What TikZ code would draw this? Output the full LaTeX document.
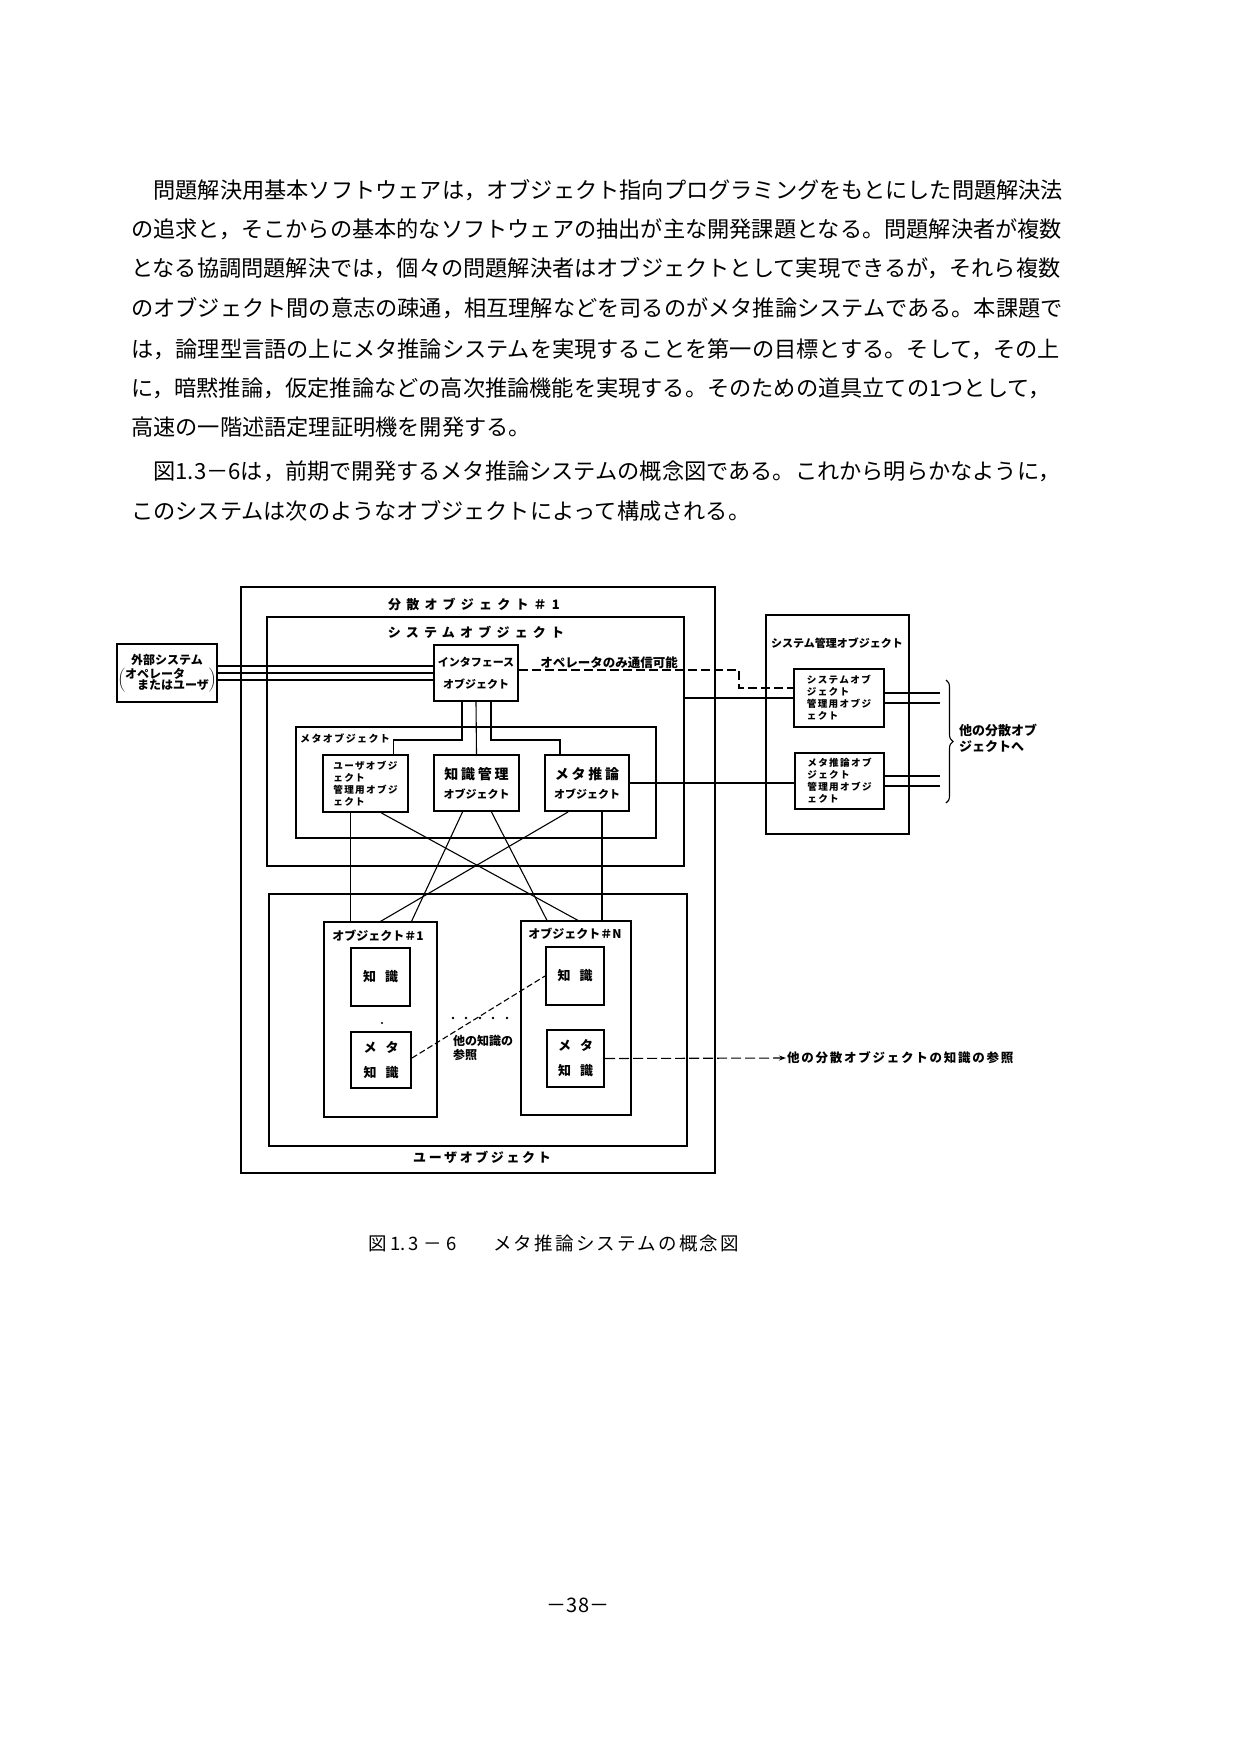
\documentclass[tikz,border=0pt]{standalone}
\usepackage{fontspec}
\setmainfont{Noto Sans CJK JP}
\newfontfamily\jpwide[LetterSpace=40]{Noto Sans CJK JP}
\newfontfamily\jpmid[LetterSpace=20]{Noto Sans CJK JP}
\newfontfamily\jpcap[LetterSpace=12]{Noto Sans CJK JP}
\newfontfamily\jpsm[LetterSpace=14]{Noto Sans CJK JP}
\usetikzlibrary{arrows.meta,positioning,decorations.pathreplacing}

\begin{document}
\begin{tikzpicture}[x=1pt,y=-1pt,
  frame/.style={draw,line width=1.2pt,inner sep=0pt},
  box/.style={draw,line width=2pt,inner sep=0pt,align=center,font=\bfseries\fontsize{11}{13}\selectfont},
  sbox/.style={box,align=left,font=\jpsm\bfseries\fontsize{9.6}{12}\selectfont},
  ttl/.style={inner sep=0pt,font=\jpwide\bfseries\fontsize{13}{15}\selectfont},
  lab/.style={inner sep=1pt,align=left,font=\bfseries\fontsize{12}{14}\selectfont},
  para/.style={anchor=west,inner sep=0pt,font=\fontsize{22.2}{26}\selectfont},
  line/.style={line width=1.1pt}]
\fill[white] (0,0) rectangle (1248,1754);
\useasboundingbox (0,0) rectangle (1248,1754);

% body text
\node[para] (l1) at (131,190) {\hspace*{1em}問題解決用基本ソフトウェアは，オブジェクト指向プログラミングをもとにした問題解決法};
\node[para] (l2) at (131,229) {の追求と，そこからの基本的なソフトウェアの抽出が主な開発課題となる。問題解決者が複数};
\node[para] (l3) at (131,268) {となる協調問題解決では，個々の問題解決者はオブジェクトとして実現できるが，それら複数};
\node[para] (l4) at (131,308) {のオブジェクト間の意志の疎通，相互理解などを司るのがメタ推論システムである。本課題で};
\node[para] (l5) at (131,349) {は，論理型言語の上にメタ推論システムを実現することを第一の目標とする。そして，その上};
\node[para] (l6) at (131,388) {に，暗黙推論，仮定推論などの高次推論機能を実現する。そのための道具立ての1つとして，};
\node[para] (l7) at (131,427) {高速の一階述語定理証明機を開発する。};
\node[para] (l8) at (131,471) {\hspace*{1em}図1.3－6は，前期で開発するメタ推論システムの概念図である。これから明らかなように，};
\node[para] (l9) at (131,511) {このシステムは次のようなオブジェクトによって構成される。};

% distributed object #1
\node[frame,minimum width=474,minimum height=586] (dist) at (478,880) {};
\node[ttl] (distT) at (474,604) {分散オブジェクト＃1};
\node[frame,minimum width=417,minimum height=249] (sys) at (475.5,741.5) {};
\node[ttl] (sysT) at (476,632) {システムオブジェクト};
\node[box,minimum width=84,minimum height=56] (iface) at (476,673) {インタフェース\\[9pt]オブジェクト};
\node[box,minimum width=100,minimum height=58,font=\bfseries\fontsize{12}{13}\selectfont] (ext) at (167,673)
  {外部システム\\[1pt]$\left(\vcenter{\baselineskip=11pt\hbox{オペレータ}\hbox{\hspace{1em}またはユーザ}}\right)$};

% meta objects
\node[frame,minimum width=360,minimum height=111] (meta) at (476,782.5) {};
\node[inner sep=0pt,anchor=west,font=\jpsm\bfseries\fontsize{10}{12}\selectfont] (metaT) at (300,739) {メタオブジェクト};
\node[sbox,minimum width=85,minimum height=57] (umg) at (365.5,783.5) {ユーザオブジ\\ェクト\\管理用オブジ\\ェクト};
\node[box,minimum width=85,minimum height=56] (kmg) at (476.5,783) {{\jpmid\bfseries\fontsize{14}{16}\selectfont 知識管理}\\[6pt]オブジェクト};
\node[box,minimum width=84,minimum height=56] (minf) at (587,783) {{\jpmid\bfseries\fontsize{14}{16}\selectfont メタ推論}\\[6pt]オブジェクト};

% user objects
\node[frame,minimum width=418,minimum height=252] (uobj) at (478,1020) {};
\node[inner sep=0pt,font=\jpmid\bfseries\fontsize{13}{15}\selectfont] (uobjT) at (482,1157) {ユーザオブジェクト};
\node[frame,minimum width=113,minimum height=195] (obj1) at (380.5,1019.5) {};
\node[inner sep=0pt,font=\bfseries\fontsize{12}{14}\selectfont] (obj1T) at (378,936) {オブジェクト＃1};
\node[box,minimum width=59,minimum height=58,font=\bfseries\fontsize{13}{15}\selectfont] (k1) at (380.5,977) {知\hspace{9pt}識};
\node[box,minimum width=60,minimum height=56,font=\bfseries\fontsize{13}{15}\selectfont] (mk1) at (381,1060) {メ\hspace{9pt}タ\\[10pt]知\hspace{9pt}識};
\node[frame,minimum width=110,minimum height=194] (objN) at (576,1018) {};
\node[inner sep=0pt,font=\bfseries\fontsize{12}{14}\selectfont] (objNT) at (575,934) {オブジェクト＃N};
\node[box,minimum width=58,minimum height=58,font=\bfseries\fontsize{13}{15}\selectfont] (kn) at (575,976) {知\hspace{9pt}識};
\node[box,minimum width=57,minimum height=57,font=\bfseries\fontsize{13}{15}\selectfont] (mkn) at (575.5,1058.5) {メ\hspace{9pt}タ\\[10pt]知\hspace{9pt}識};

% system management object
\node[frame,minimum width=143,minimum height=219] (smg) at (837.5,724.5) {};
\node[inner sep=0pt,font=\bfseries\fontsize{11}{13}\selectfont] (smgT) at (837,643) {システム管理オブジェクト};
\node[sbox,minimum width=90,minimum height=58] (sm1) at (839,698) {システムオブ\\ジェクト\\管理用オブジ\\ェクト};
\node[sbox,minimum width=89,minimum height=56] (sm2) at (839.5,781) {メタ推論オブ\\ジェクト\\管理用オブジ\\ェクト};
\coordinate (bro) at (940,0);
\node[lab,anchor=west,font=\bfseries\fontsize{13}{16}\selectfont] (othd) at (958,738) {他の分散オブ\\ジェクトへ};

% connectors
\foreach \d in {-7,0,7}
  \draw[line] ([yshift=\d pt]ext.east) -- ([yshift=\d pt]iface.west);
\draw[line,dash pattern=on 9pt off 4pt] ([yshift=3pt]iface.east) -- node[pos=0.41,above,lab,font=\bfseries\fontsize{12.5}{14}\selectfont]{オペレータのみ通信可能} ++(220,0) |- ([yshift=10pt]sm1.west);
\draw[line] (sys.east |- sm1.west) -- (sm1.west);
\draw[line] (minf.east) -- (minf.east -| sm2.west);
\foreach \d in {5,-5} {
  \draw[line] ([yshift=\d pt]sm1.east) -- ([yshift=\d pt]sm1.east -| bro);
  \draw[line] ([yshift=\d pt]sm2.east) -- ([yshift=\d pt]sm2.east -| bro);
}
\draw[line,decorate,decoration={brace,amplitude=7pt}] (946,680) -- (946,803);

\draw[line] ([xshift=-14pt]iface.south) -- ++(0,38) -| ([xshift=28pt]umg.north);
\draw[line] (iface.south) -- (kmg.north);
\draw[line] ([xshift=15pt]iface.south) -- ++(0,38) -| ([xshift=-27pt]minf.north);

\draw[line] ([xshift=-15pt]umg.south) -- ([xshift=-15pt]umg.south |- obj1.north);
\draw[line] ([xshift=16pt]umg.south) -- ([xshift=2pt]objN.north);
\draw[line] ([xshift=-14pt]kmg.south) -- ([xshift=31pt]obj1.north);
\draw[line] ([xshift=15pt]kmg.south) -- ([xshift=-29pt]objN.north);
\draw[line] ([xshift=-19pt]minf.south) -- (obj1.north);
\draw[line] ([xshift=15pt]minf.south) -- ([xshift=15pt]minf.south |- objN.north);

\draw[line,dash pattern=on 6pt off 3pt] ([yshift=2pt]mk1.east) -- (kn.west);
\foreach \x in {453,466,480,493,507}
  \fill (\x,1018) circle (1.4pt);
\fill (382,1023) circle (1.2pt);
\node[lab,anchor=north west] (kref) at (452,1034) {他の知識の\\参照};
\node[lab,anchor=west,font=\jpsm\bfseries\fontsize{12.5}{14}\selectfont] (oref) at (786,1058) {他の分散オブジェクトの知識の参照};
\draw[line,dash pattern=on 10pt off 4pt,-{Stealth[length=7pt,width=5pt]}] (mkn.east) -- (oref.west);

% caption, page number
\node[inner sep=0pt,anchor=west,font=\fontsize{18.5}{20}\selectfont] (cap) at (368,1243)
  {図\hspace{4pt}1.\hspace{2pt}3\hspace{5pt}－\hspace{5pt}6\hspace{36pt}{\jpcap メタ推論システムの概念図}};
\node[inner sep=0pt,font=\fontsize{20}{22}\selectfont] (pg) at (578,1605) {－38－};
\end{tikzpicture}
\end{document}
